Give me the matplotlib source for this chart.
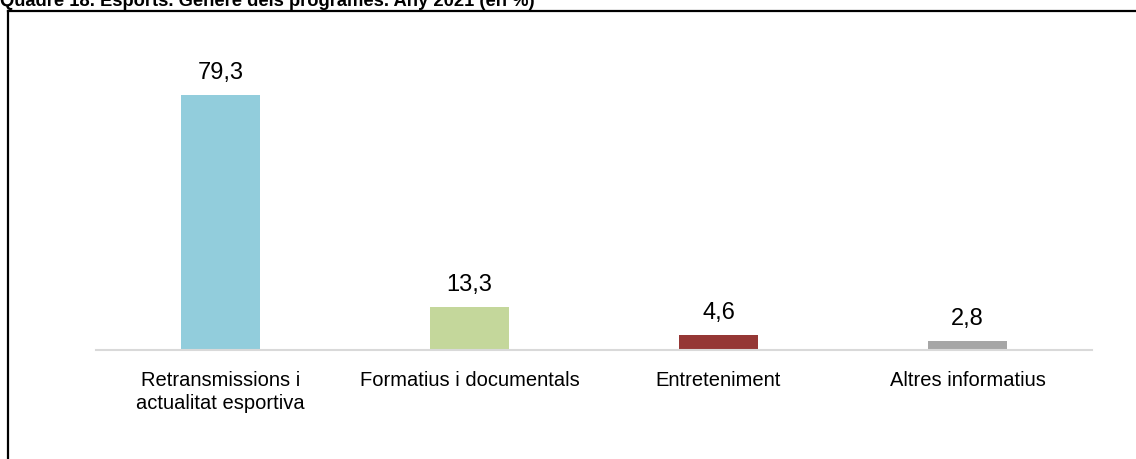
import matplotlib
matplotlib.use("Agg")
import matplotlib.pyplot as plt
from matplotlib.lines import Line2D

categories = ["Retransmissions i\nactualitat esportiva", "Formatius i documentals",
              "Entreteniment", "Altres informatius"]
values = [79.3, 13.3, 4.6, 2.8]
value_labels = ["79,3", "13,3", "4,6", "2,8"]
colors = ["#92CDDC", "#C4D79B", "#953735", "#A6A6A6"]
title = "Quadre 18. Esports. Gènere dels programes. Any 2021 (en %)"

plt.rcParams['font.family'] = ['Liberation Sans', 'DejaVu Sans']

W, H = 1136, 459
fig = plt.figure(figsize=(W / 100, H / 100), dpi=100)

# axes: x from 96 to 1092 px, baseline at y=350 px
ax_left, ax_right = 96, 1092
ax_bottom_px = 350
ymax = 90
px_per_unit = 255 / 79.3
ax_top_px = ax_bottom_px - ymax * px_per_unit
ax = fig.add_axes([ax_left / W, (H - ax_bottom_px) / H,
                   (ax_right - ax_left) / W, (ax_bottom_px - ax_top_px) / H])

x = range(len(categories))
ax.bar(x, values, width=79 / 249, color=colors, zorder=2)
for xi, v, lab in zip(x, values, value_labels):
    ax.annotate(lab, (xi, v), xytext=(0, 11.5), textcoords="offset points",
                ha="center", va="baseline", fontsize=17, color="#000000")

ax.set_xlim(-0.5, 3.5)
ax.set_ylim(0, ymax)
ax.set_xticks(list(x))
ax.set_xticklabels(categories, fontsize=14.5, color="#000000", linespacing=1.3)
ax.tick_params(axis="x", length=0, pad=15)
ax.set_yticks([])
for s in ["top", "right", "left"]:
    ax.spines[s].set_visible(False)
ax.spines["bottom"].set_color("#D9D9D9")
ax.spines["bottom"].set_linewidth(1.5)
ax.patch.set_alpha(0)

# outer frame (left and top edges)
fig.add_artist(Line2D([8 / W, 8 / W], [0, 1 - 11 / H], color="black", lw=1.6,
                      transform=fig.transFigure))
fig.add_artist(Line2D([8 / W, 1], [1 - 11 / H, 1 - 11 / H], color="black", lw=1.6,
                      transform=fig.transFigure))

# title partially clipped at top (as in the reference)
fig.text(0.0, 1 - 5.5 / H, title, fontsize=13.2, fontweight="bold", ha="left",
         va="baseline", color="black")

fig.savefig("out.png", dpi=100)
